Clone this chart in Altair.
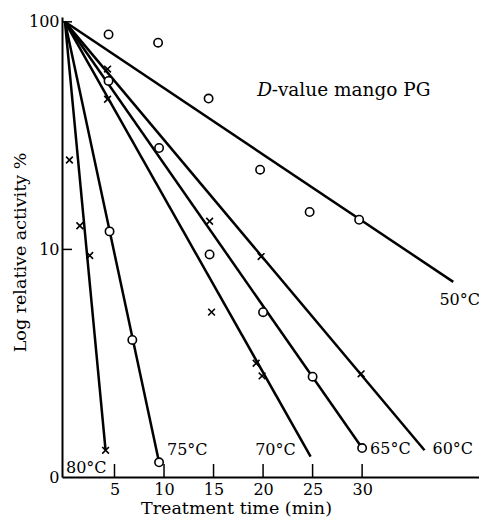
import altair as alt
import pandas as pd

# ---- data ----
temps = ["50°C", "60°C", "65°C", "70°C", "75°C", "80°C"]
start_x = [0, 0, 0, 0, 0, 0]
start_y = [100, 100, 100, 100, 100, 100]
end_x = [39.2, 36.3, 30.0, 24.8, 9.5, 4.1]
end_y = [7.2, 1.31, 1.34, 1.23, 1.16, 1.31]

circle_x = [4.4, 9.4, 14.5, 19.7, 24.7, 29.7, 4.4, 9.5, 4.5, 14.6, 6.8, 9.5, 20.0, 25.0, 30.0]
circle_y = [88, 81, 46, 22.4, 14.6, 13.5, 55, 27.9, 12.0, 9.5, 4.0, 1.16, 5.3, 2.76, 1.34]

cross_x = [4.3, 4.3, 0.45, 1.5, 2.5, 14.6, 14.8, 19.8, 19.3, 19.9, 29.9, 4.1]
cross_y = [62, 45.7, 24.7, 12.7, 9.4, 13.3, 5.3, 9.3, 3.16, 2.78, 2.84, 1.31]

label_x = [37.6, 36.9, 30.6, 19.0, 10.1, -0.1]
label_y = [6.0, 1.33, 1.33, 1.31, 1.31, 1.09]

x_ticks = [5, 10, 15, 20, 25, 30]
y_ticks = [1, 10, 100]
y_inner_ticks = [10, 100]

title_text = ["D", "-value mango PG"]
title_x = [19.4]
title_y = [50.2]

FONT = "DejaVu Serif"

# ---- tables ----
lines_df = pd.DataFrame({
    "temp": temps + temps,
    "x": start_x + end_x,
    "y": start_y + end_y,
})
circ_df = pd.DataFrame({"x": circle_x, "y": circle_y})
cross_df = pd.DataFrame({"x": cross_x, "y": cross_y})
lab_df = pd.DataFrame({"x": label_x, "y": label_y, "t": temps})
xt_df = pd.DataFrame({"v": x_ticks})
yt_df = pd.DataFrame({"v": y_inner_ticks})

xs = alt.Scale(domain=[-0.3, 41.8], nice=False, zero=False)
ys = alt.Scale(type="log", domain=[1, 105], nice=False)

x_axis = alt.Axis(
    values=x_ticks, ticks=False, grid=False, domainColor="black", domainWidth=2,
    labelFont=FONT, labelFontSize=16, labelColor="black", labelPadding=4,
    title="Treatment time (min)", titleFont=FONT, titleFontSize=17.5,
    titleFontWeight="normal", titleColor="black",
    titleX=174, titleY=31, titleAlign="center", titleBaseline="middle",
)
y_axis = alt.Axis(
    values=y_ticks, ticks=False, grid=False, domainColor="black", domainWidth=2,
    labelFont=FONT, labelFontSize=16, labelColor="black", labelPadding=3,
    labelExpr="datum.value == 1 ? '0' : datum.label",
    title="Log relative activity %", titleFont=FONT, titleFontSize=17.5,
    titleFontWeight="normal", titleColor="black",
    titleAngle=-90, titleX=-42, titleY=235, titleAlign="center", titleBaseline="middle",
)

lines = alt.Chart(lines_df).mark_line(color="black", strokeWidth=2.5).encode(
    x=alt.X("x:Q", scale=xs, axis=x_axis),
    y=alt.Y("y:Q", scale=ys, axis=y_axis),
    detail="temp:N",
)

circles = alt.Chart(circ_df).mark_point(
    shape="circle", size=70, filled=True, fill="white", stroke="black", strokeWidth=1.6, opacity=1
).encode(x=alt.X("x:Q", scale=xs), y=alt.Y("y:Q", scale=ys))

crosses = alt.Chart(cross_df).mark_point(
    shape="M-1,-1L1,1M-1,1L1,-1", size=45, stroke="black", strokeWidth=1.6, filled=False, opacity=1
).encode(x=alt.X("x:Q", scale=xs), y=alt.Y("y:Q", scale=ys))

xticks = alt.Chart(xt_df).mark_rule(color="black", strokeWidth=1.5).encode(
    x=alt.X("v:Q", scale=xs), y=alt.value(460), y2=alt.value(447)
)
yticks = alt.Chart(yt_df).mark_rule(color="black", strokeWidth=1.5).encode(
    y=alt.Y("v:Q", scale=ys), x=alt.value(0), x2=alt.value(10)
)

labels = alt.Chart(lab_df).mark_text(
    font=FONT, fontSize=16, color="black", align="left", baseline="middle", dx=2
).encode(x=alt.X("x:Q", scale=xs), y=alt.Y("y:Q", scale=ys), text="t:N")

ttl_df = pd.DataFrame({"x": title_x, "y": title_y, "a": [title_text[0]], "b": [title_text[1]]})
ttl_d = alt.Chart(ttl_df).mark_text(
    font=FONT, fontSize=18.5, fontStyle="italic", color="black", align="left", baseline="middle"
).encode(x=alt.X("x:Q", scale=xs), y=alt.Y("y:Q", scale=ys), text="a:N")
ttl_rest = alt.Chart(ttl_df).mark_text(
    font=FONT, fontSize=18.5, color="black", align="left", baseline="middle", dx=14.5
).encode(x=alt.X("x:Q", scale=xs), y=alt.Y("y:Q", scale=ys), text="b:N")

chart = alt.layer(lines, circles, crosses, xticks, yticks, labels, ttl_d, ttl_rest).properties(
    width=417, height=460,
    autosize=alt.AutoSizeParams(type="none"),
    padding={"left": 54, "top": 9, "right": 0, "bottom": 45},
    background="white",
).configure_view(stroke=None)

chart.save("out.html", embed_options={"renderer": "svg", "actions": False})
